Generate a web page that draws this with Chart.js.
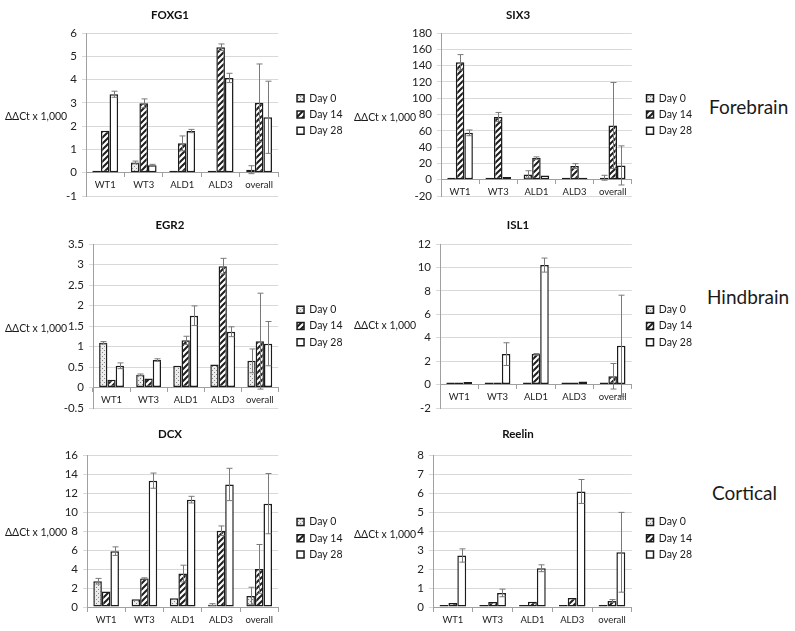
<!DOCTYPE html>
<html>
<head>
<meta charset="utf-8">
<script src="https://cdn.jsdelivr.net/npm/chart.js@4.4.1/dist/chart.umd.min.js"></script>
<style>
  html, body { margin: 0; padding: 0; background: #fff; overflow: hidden; }
  #wrap { position: relative; width: 795px; height: 631px; font-family: Lato, sans-serif; color: #1a1a1a; }
  #wrap canvas { position: absolute; }
  .ylab { position: absolute; font-size: 10.5px; line-height: 12px; white-space: nowrap; }
  .region { position: absolute; font-size: 19px; line-height: 22px; white-space: nowrap; }
</style>
</head>
<body>
<div id="wrap">
  <canvas id="foxg1" width="364" height="212" style="left:-12px;top:0px"></canvas>
  <canvas id="six3" width="368" height="212" style="left:334px;top:0px"></canvas>
  <canvas id="egr2" width="364" height="214" style="left:-12px;top:210px"></canvas>
  <canvas id="isl1" width="368" height="214" style="left:334px;top:210px"></canvas>
  <canvas id="dcx" width="364" height="213" style="left:-12px;top:419px"></canvas>
  <canvas id="reelin" width="368" height="213" style="left:334px;top:419px"></canvas>

  <div class="ylab" style="left:5px;top:110px">ΔΔCt x 1,000</div>
  <div class="ylab" style="left:354px;top:111px">ΔΔCt x 1,000</div>
  <div class="ylab" style="left:5px;top:322px">ΔΔCt x 1,000</div>
  <div class="ylab" style="left:354px;top:319px">ΔΔCt x 1,000</div>
  <div class="ylab" style="left:5px;top:526px">ΔΔCt x 1,000</div>
  <div class="ylab" style="left:354px;top:528px">ΔΔCt x 1,000</div>

  <div class="region" style="left:709px;top:96px">Forebrain</div>
  <div class="region" style="left:707px;top:286px">Hindbrain</div>
  <div class="region" style="left:712px;top:482px">Cortical</div>
</div>
<script>
const categories = ['WT1', 'WT3', 'ALD1', 'ALD3', 'overall'];
const seriesNames = ['Day 0', 'Day 14', 'Day 28'];

// Forebrain
const foxg1Day0 = [0.07, 0.44, 0.02, 0.02, 0.13];
const foxg1Day14 = [1.8, 2.98, 1.26, 5.39, 3.0];
const foxg1Day28 = [3.37, 0.32, 1.79, 4.07, 2.38];
const foxg1Err0 = [0, 0.06, 0, 0, 0.17];
const foxg1Err14 = [0, 0.19, 0.32, 0.14, 1.67];
const foxg1Err28 = [0.13, 0.04, 0.07, 0.2, 1.55];
const foxg1Ticks = [-1, 6, 1];

const six3Day0 = [0.5, 0.5, 6.5, 0.5, 2.4];
const six3Day14 = [144, 77, 26.5, 16.7, 66.5];
const six3Day28 = [57.5, 3.3, 5.3, 1.2, 17.5];
const six3Err0 = [0, 0, 4.5, 0, 3];
const six3Err14 = [9.5, 5.5, 1.5, 3, 52.7];
const six3Err28 = [3.5, 0, 0, 0, 24];
const six3Ticks = [-20, 180, 20];

// Hindbrain
const egr2Day0 = [1.09, 0.31, 0.53, 0.56, 0.65];
const egr2Day14 = [0.19, 0.22, 1.15, 2.96, 1.13];
const egr2Day28 = [0.53, 0.67, 1.75, 1.36, 1.07];
const egr2Err0 = [0.03, 0.02, 0, 0, 0.29];
const egr2Err14 = [0, 0, 0.1, 0.19, 1.17];
const egr2Err28 = [0.07, 0.03, 0.24, 0.12, 0.54];
const egr2Ticks = [-0.5, 3.5, 0.5];

const isl1Day0 = [0.05, 0.05, 0.05, 0.05, 0.05];
const isl1Day14 = [0.05, 0.17, 2.6, 0.05, 0.71];
const isl1Day28 = [0.23, 2.6, 10.2, 0.26, 3.31];
const isl1Err0 = [0, 0, 0, 0, 0];
const isl1Err14 = [0, 0, 0.05, 0, 1.09];
const isl1Err28 = [0, 0.97, 0.6, 0, 4.32];
const isl1Ticks = [-2, 12, 2];

// Cortical
const dcxDay0 = [2.71, 0.81, 0.92, 0.25, 1.16];
const dcxDay14 = [1.62, 3.0, 3.52, 8.03, 4.01];
const dcxDay28 = [5.88, 13.3, 11.3, 12.9, 10.88];
const dcxErr0 = [0.3, 0, 0, 0.1, 0.92];
const dcxErr14 = [0, 0.07, 0.88, 0.5, 2.57];
const dcxErr28 = [0.45, 0.8, 0.35, 1.7, 3.17];
const dcxTicks = [0, 16, 2];

const reelinDay0 = [0.05, 0.02, 0.05, 0.02, 0.05];
const reelinDay14 = [0.21, 0.26, 0.28, 0.47, 0.32];
const reelinDay28 = [2.71, 0.74, 2.04, 6.08, 2.88];
const reelinErr0 = [0, 0, 0, 0, 0];
const reelinErr14 = [0, 0, 0, 0, 0.07];
const reelinErr28 = [0.35, 0.2, 0.18, 0.63, 2.1];
const reelinTicks = [0, 8, 1];


const makePattern = (size, draw) => {
    const c = document.createElement('canvas');
    c.width = c.height = size;
    const g = c.getContext('2d');
    draw(g, size);
    return g.createPattern(c, 'repeat');
};

const dotFill = makePattern(4, (g, s) => {
    g.fillStyle = '#ececec';
    g.fillRect(0, 0, s, s);
    g.fillStyle = '#858585';
    g.fillRect(0, 0, 1, 1);
    g.fillRect(2, 2, 1, 1);
});

const hatchFill = makePattern(6, (g, s) => {
    g.fillStyle = '#fff';
    g.fillRect(0, 0, s, s);
    g.strokeStyle = '#1e1e1e';
    g.lineWidth = 2;
    g.beginPath();
    g.moveTo(-1, s + 1); g.lineTo(s + 1, -1);
    g.moveTo(-1, 1); g.lineTo(1, -1);
    g.moveTo(s - 1, s + 1); g.lineTo(s + 1, s - 1);
    g.stroke();
});

const fills = [dotFill, hatchFill, '#fff'];

// draws +/- error whiskers on top of the bars
const errorBars = {
    id: 'errorBars',
    afterDatasetsDraw(chart) {
        const ctx = chart.ctx;
        const yScale = chart.scales.y;
        ctx.save();
        ctx.strokeStyle = '#7a7a7a';
        ctx.lineWidth = 1;
        chart.data.datasets.forEach((ds, i) => {
            chart.getDatasetMeta(i).data.forEach((bar, j) => {
                const err = ds.errors[j];
                if (!err) return;
                const x = Math.round(bar.x) + 0.5;
                const top = yScale.getPixelForValue(ds.data[j] + err);
                const bot = yScale.getPixelForValue(ds.data[j] - err);
                ctx.beginPath();
                ctx.moveTo(x, top); ctx.lineTo(x, bot);
                ctx.moveTo(x - 3, top); ctx.lineTo(x + 3, top);
                ctx.moveTo(x - 3, bot); ctx.lineTo(x + 3, bot);
                ctx.stroke();
            });
        });
        ctx.restore();
    }
};

const mountChart = (id, title, series, errors, ticks, box) => {
    new Chart(document.getElementById(id), {
        type: 'bar',
        data: {
            labels: categories,
            datasets: series.map((values, i) => ({
                label: seriesNames[i],
                data: values,
                errors: errors[i],
                yAxisID: 'y',
                backgroundColor: fills[i],
                borderColor: '#1c1c1c',
                borderWidth: 1.5,
                borderSkipped: false,
                minBarLength: 2,
                categoryPercentage: 0.67,
                barPercentage: 1
            }))
        },
        options: {
            responsive: false,
            animation: false,
            layout: { padding: { left: 0, right: 0, top: 0, bottom: box.padBottom } },
            plugins: {
                title: {
                    display: true,
                    text: title,
                    color: '#111',
                    font: { family: 'Lato', size: 11.5, weight: 'bold' },
                    padding: { top: 8.1, bottom: box.titleGap }
                },
                legend: {
                    position: 'right',
                    fullSize: false,
                    title: { display: !!box.legendShift, text: '' },
                    labels: {
                        boxWidth: 7,
                        boxHeight: 7,
                        padding: 5.7,
                        color: '#1a1a1a',
                        font: { family: 'Lato', size: 10.5 }
                    }
                },
                tooltip: { enabled: false }
            },
            scales: {
                x: {
                    position: { y: 0 },
                    grid: { drawOnChartArea: false, drawTicks: true, tickLength: 4, color: '#a0a0a0', offset: true },
                    border: { color: '#a0a0a0' },
                    ticks: { padding: 3, color: '#222', maxRotation: 0, font: { family: 'Lato', size: 9.5 } }
                },
                y: {
                    min: ticks[0],
                    max: ticks[1],
                    ticks: {
                        stepSize: ticks[2],
                        autoSkip: false,
                        padding: 5,
                        color: '#222',
                        font: { family: 'Lato', size: 11.5 },
                        callback: (v) => String(v)
                    },
                    grid: { color: '#d9d9d9', tickLength: 4 },
                    border: { color: '#a0a0a0' },
                    afterFit: (s) => { s.width = box.yWidth; }
                },
                gap: {
                    type: 'linear',
                    axis: 'y',
                    position: 'right',
                    grid: { display: false },
                    border: { display: false },
                    ticks: { display: false },
                    afterFit: (s) => { s.width = box.gap; }
                }
            }
        },
        plugins: [errorBars]
    });
};

mountChart('foxg1', 'FOXG1', [foxg1Day0, foxg1Day14, foxg1Day28], [foxg1Err0, foxg1Err14, foxg1Err28], foxg1Ticks,
    { yWidth: 98, gap: 13, titleGap: 11.1, padBottom: 16 });
mountChart('six3', 'SIX3', [six3Day0, six3Day14, six3Day28], [six3Err0, six3Err14, six3Err28], six3Ticks,
    { yWidth: 107, gap: 9, titleGap: 11.1, padBottom: 16 });
mountChart('egr2', 'EGR2', [egr2Day0, egr2Day14, egr2Day28], [egr2Err0, egr2Err14, egr2Err28], egr2Ticks,
    { yWidth: 105, gap: 13, titleGap: 12.1, padBottom: 16 });
mountChart('isl1', 'ISL1', [isl1Day0, isl1Day14, isl1Day28], [isl1Err0, isl1Err14, isl1Err28], isl1Ticks,
    { yWidth: 106, gap: 9, titleGap: 12.1, padBottom: 16 });
mountChart('dcx', 'DCX', [dcxDay0, dcxDay14, dcxDay28], [dcxErr0, dcxErr14, dcxErr28], dcxTicks,
    { yWidth: 99, gap: 13, titleGap: 14.1, padBottom: 25, legendShift: true });
mountChart('reelin', 'Reelin', [reelinDay0, reelinDay14, reelinDay28], [reelinErr0, reelinErr14, reelinErr28], reelinTicks,
    { yWidth: 99, gap: 9, titleGap: 14.1, padBottom: 25, legendShift: true });
</script>
</body>
</html>
